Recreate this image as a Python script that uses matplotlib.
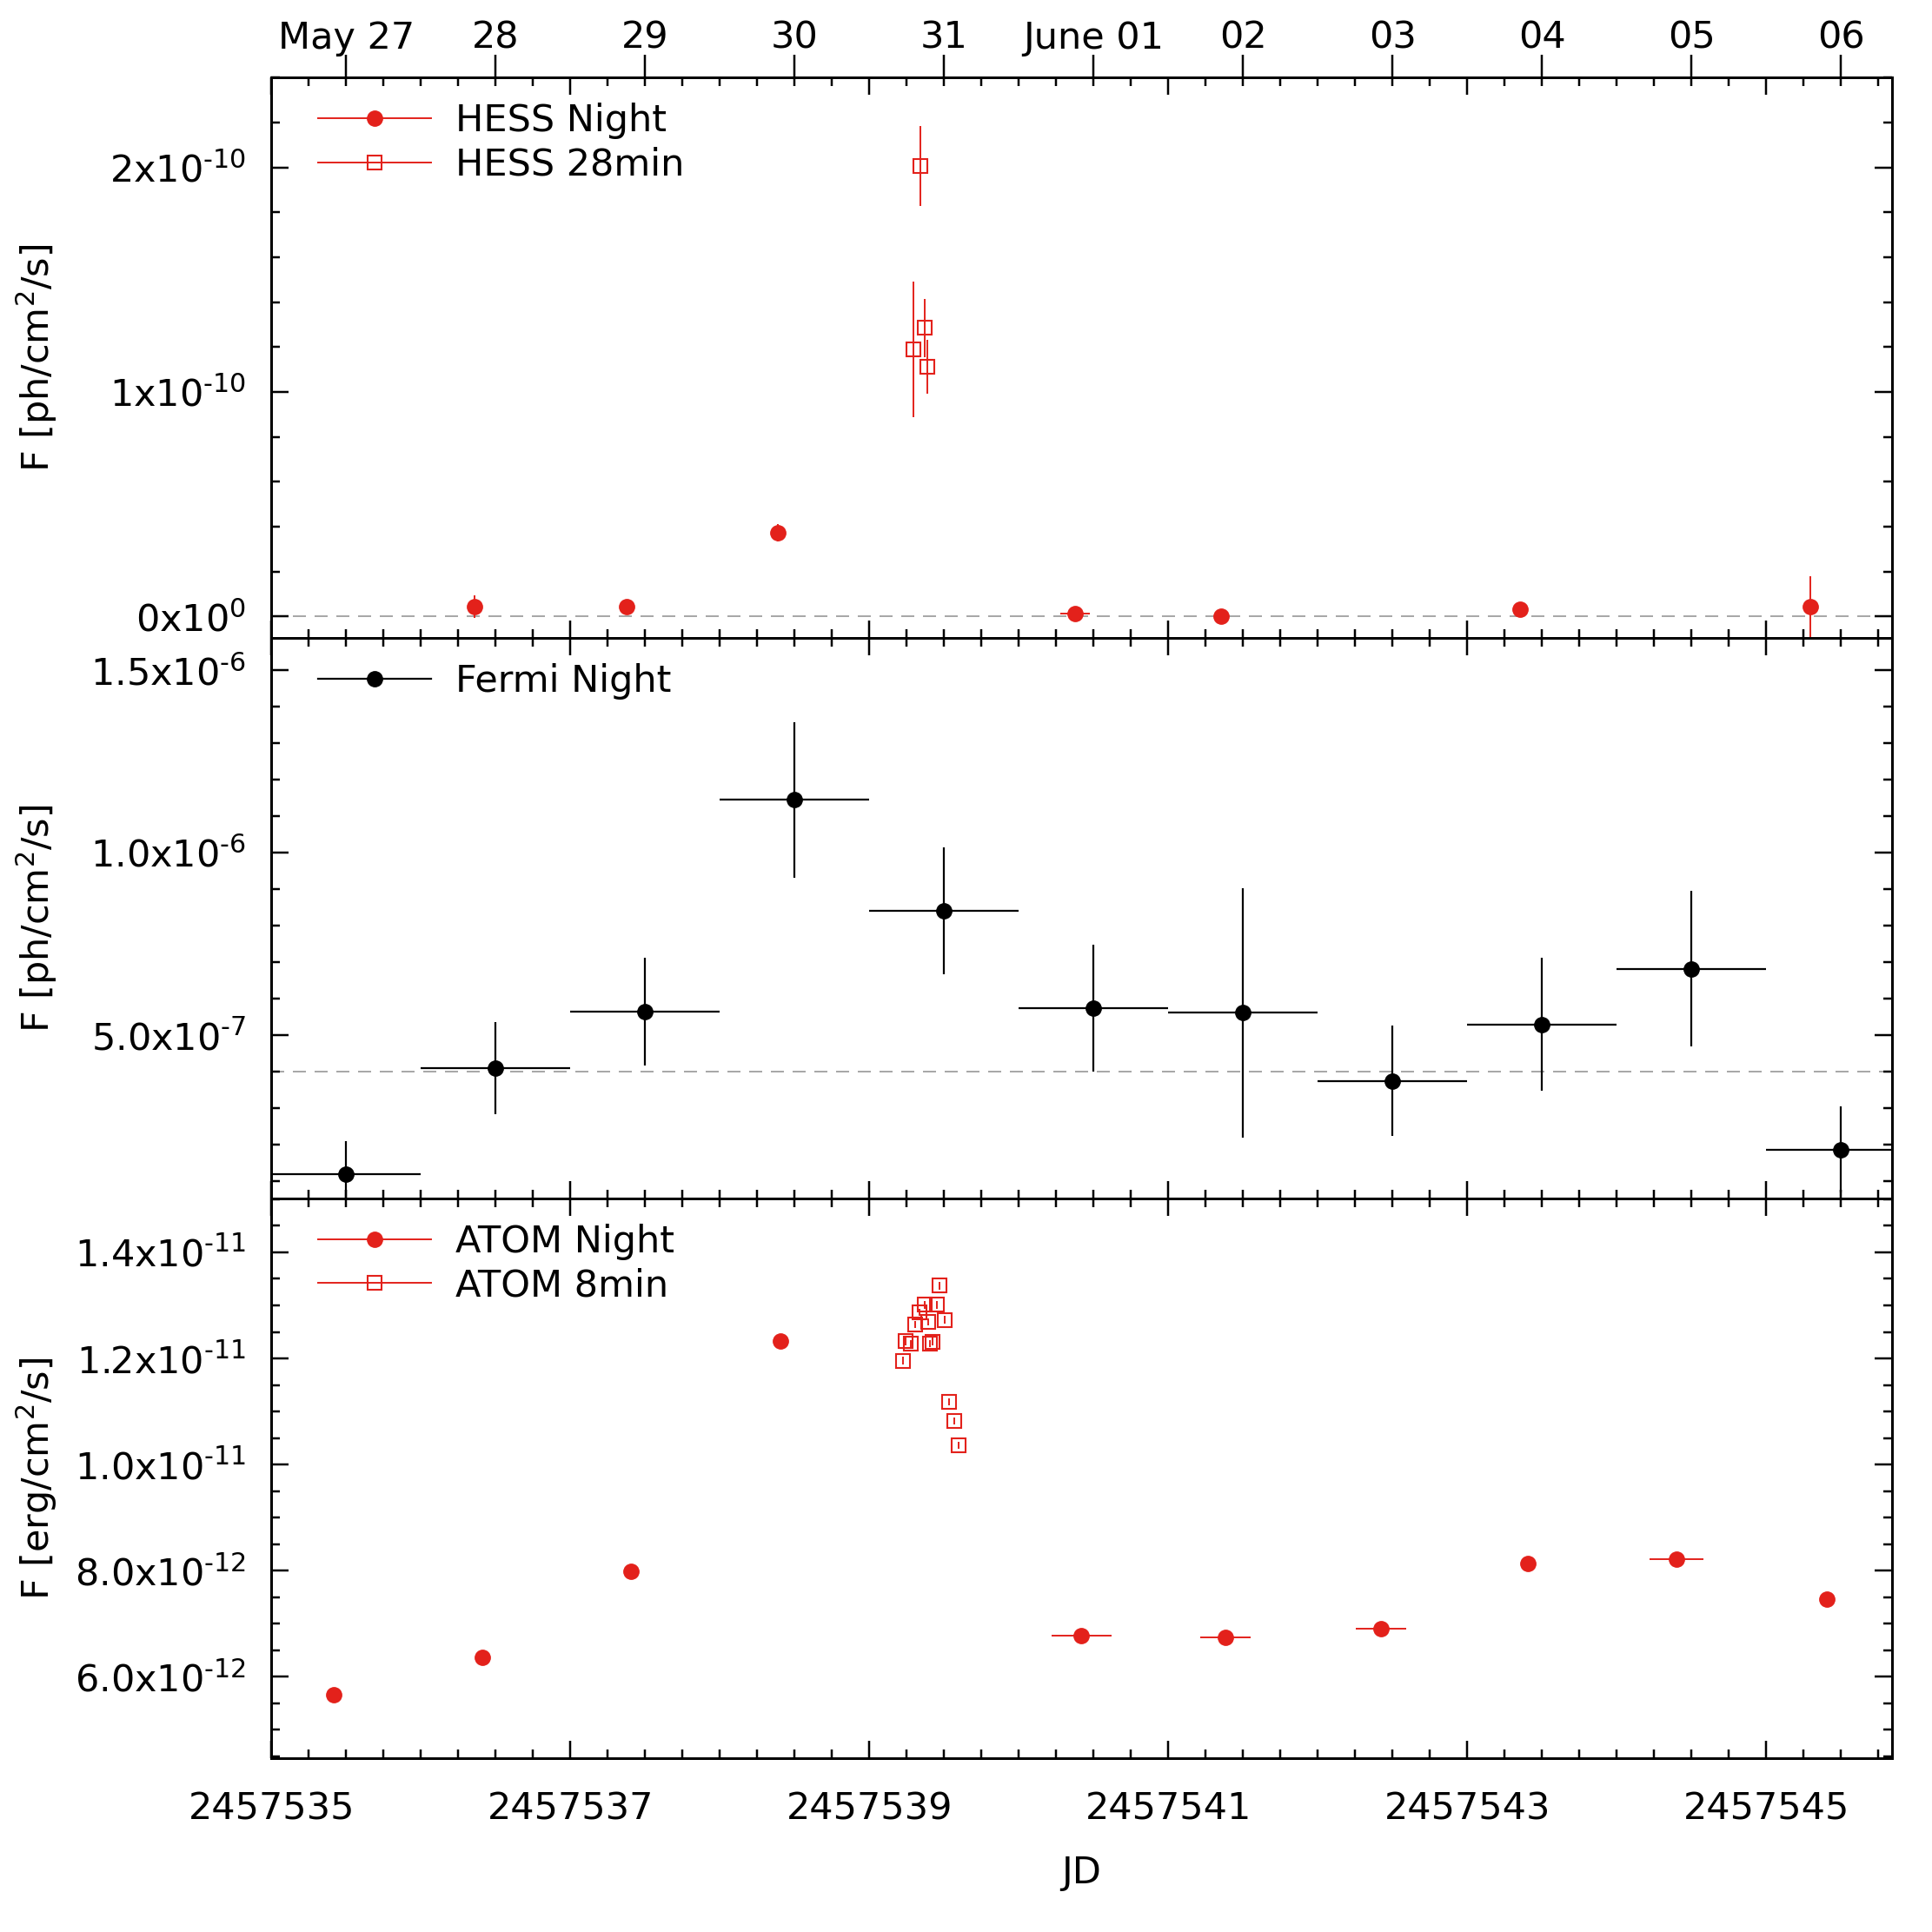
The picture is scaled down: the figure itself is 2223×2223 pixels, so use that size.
import numpy as np
import matplotlib
matplotlib.use('Agg')
import matplotlib.pyplot as plt
from matplotlib.ticker import MultipleLocator
from matplotlib.lines import Line2D

plt.rcParams['font.family'] = ['DejaVu Sans']
plt.rcParams['mathtext.default'] = 'regular'

# ---------------- data ----------------
hess_night_jd = [2457536.361, 2457537.375, 2457538.390, 2457540.377, 2457541.351, 2457543.355, 2457545.293]
hess_night_flux = [0.045e-10, 0.045e-10, 0.374e-10, 0.013e-10, 0.0, 0.034e-10, 0.045e-10]
hess_night_err = [0.05e-10, 0.02e-10, 0.04e-10, 0.02e-10, 0.02e-10, 0.02e-10, 0.135e-10]
hess_night_xerr = [0, 0, 0, 0.1, 0, 0, 0]

hess28_jd = [2457539.294, 2457539.342, 2457539.373, 2457539.390]
hess28_flux = [1.190e-10, 2.005e-10, 1.286e-10, 1.114e-10]
hess28_err = [0.302e-10, 0.178e-10, 0.129e-10, 0.120e-10]

fermi_jd = [2457535.5, 2457536.5, 2457537.5, 2457538.5, 2457539.5, 2457540.5,
            2457541.5, 2457542.5, 2457543.5, 2457544.5, 2457545.5]
fermi_flux = [0.118e-6, 0.409e-6, 0.564e-6, 1.145e-6, 0.841e-6, 0.574e-6,
              0.561e-6, 0.375e-6, 0.530e-6, 0.682e-6, 0.186e-6]
fermi_err = [0.091e-6, 0.126e-6, 0.148e-6, 0.213e-6, 0.174e-6, 0.175e-6,
             0.343e-6, 0.152e-6, 0.182e-6, 0.213e-6, 0.118e-6]
fermi_xerr = [0.5] * 11

atom_night_jd = [2457535.418, 2457536.410, 2457537.408, 2457538.406, 2457540.418,
                 2457541.383, 2457542.422, 2457543.404, 2457544.402, 2457545.408]
atom_night_flux = [5.67e-12, 6.37e-12, 7.99e-12, 12.33e-12, 6.78e-12,
                   6.74e-12, 6.90e-12, 8.13e-12, 8.22e-12, 7.46e-12]
atom_night_xerr = [0, 0, 0, 0, 0.2, 0.17, 0.17, 0, 0.18, 0]

atom8_jd = [2457539.226, 2457539.245, 2457539.278, 2457539.307, 2457539.338,
            2457539.373, 2457539.393, 2457539.406, 2457539.422, 2457539.454,
            2457539.470, 2457539.503, 2457539.534, 2457539.567, 2457539.599]
atom8_flux = [1.196e-11, 1.2325e-11, 1.228e-11, 1.264e-11, 1.287e-11,
              1.301e-11, 1.269e-11, 1.228e-11, 1.232e-11, 1.301e-11,
              1.337e-11, 1.273e-11, 1.118e-11, 1.082e-11, 1.0365e-11]
atom8_err = [0.007e-11] * 15

hess_yticks = [0, 1e-10, 2e-10]
hess_ylabels = [r'$0x10^{0}$', r'$1x10^{\text{-}10}$', r'$2x10^{\text{-}10}$']
fermi_yticks = [5e-7, 1.0e-6, 1.5e-6]
fermi_ylabels = [r'$5.0x10^{\text{-}7}$', r'$1.0x10^{\text{-}6}$', r'$1.5x10^{\text{-}6}$']
atom_yticks = [6e-12, 8e-12, 1.0e-11, 1.2e-11, 1.4e-11]
atom_ylabels = [r'$6.0x10^{\text{-}12}$', r'$8.0x10^{\text{-}12}$', r'$1.0x10^{\text{-}11}$',
                r'$1.2x10^{\text{-}11}$', r'$1.4x10^{\text{-}11}$']
jd_ticks = [2457535, 2457537, 2457539, 2457541, 2457543, 2457545]
jd_labels = ['2457535', '2457537', '2457539', '2457541', '2457543', '2457545']
date_ticks = [2457535.5, 2457536.5, 2457537.5, 2457538.5, 2457539.5, 2457540.5,
              2457541.5, 2457542.5, 2457543.5, 2457544.5, 2457545.5]
date_labels = ['May 27', '28', '29', '30', '31', 'June 01', '02', '03', '04', '05', '06']

fermi_baseline = 4e-7

# ---------------- style ----------------
RED = '#e3211b'
FS = 31
PX = 0.72  # points per pixel at dpi 100
MS_C = 12.5
MS_S = 12

fig = plt.figure(figsize=(22.23, 22.23), dpi=100)
left, right, bottom, top = 0.1405, 0.9792, 0.0898, 0.9598
h = (top - bottom) / 3
ax1 = fig.add_axes([left, bottom + 2 * h, right - left, h])
ax2 = fig.add_axes([left, bottom + h, right - left, h], sharex=ax1)
ax3 = fig.add_axes([left, bottom, right - left, h], sharex=ax1)

leg_kw = dict(loc='upper left', frameon=False, fontsize=FS, handlelength=3.0,
              handletextpad=0.65, labelspacing=0.2, borderaxespad=0.0,
              borderpad=0.0, bbox_to_anchor=(0.029, 0.955))

for ax in (ax1, ax2, ax3):
    for sp in ax.spines.values():
        sp.set_linewidth(3 * PX)
    ax.tick_params(which='both', direction='in', top=True, right=True,
                   labelsize=FS, width=2.5 * PX)
    ax.tick_params(which='major', length=20 * PX, pad=21)
    ax.tick_params(which='minor', length=10 * PX)
    ax.xaxis.set_major_locator(MultipleLocator(2))
    ax.xaxis.set_minor_locator(MultipleLocator(0.25))
    ax.yaxis.set_label_coords(-0.131, 0.5)

ax1.tick_params(axis='x', labelbottom=False)
ax2.tick_params(axis='x', labelbottom=False)
ax3.set_xlim(2457535.0, 2457545.84)

# ---- HESS panel ----
ax1.axhline(0, color='#a8a8a8', lw=2 * PX, ls=(0, (7.5, 5)), zorder=1)
ax1.errorbar(hess_night_jd, hess_night_flux, yerr=hess_night_err, xerr=hess_night_xerr,
             fmt='o', color=RED, ms=MS_C, mew=1, lw=1.4, capsize=0, zorder=3)
ax1.errorbar(hess28_jd, hess28_flux, yerr=hess28_err, fmt='s', color=RED,
             mfc='none', mec=RED, ms=MS_S, mew=1.5, lw=1.4, capsize=0, zorder=3)
ax1.set_ylim(-0.095e-10, 2.4e-10)
ax1.set_yticks(hess_yticks, hess_ylabels)
ax1.yaxis.set_minor_locator(MultipleLocator(0.2e-10))
ax1.set_ylabel(r'F [ph/cm$^{2}$/s]', fontsize=FS)
h1 = [Line2D([], [], color=RED, lw=1.4, marker='o', ms=MS_C),
      Line2D([], [], color=RED, lw=1.4, marker='s', ms=MS_S, mfc='none', mew=1.5)]
ax1.legend(h1, ['HESS Night', 'HESS 28min'], **leg_kw)

sec = ax1.secondary_xaxis('top')
sec.set_xticks(date_ticks, date_labels)
sec.tick_params(direction='out', length=26 * PX, width=2.5 * PX, labelsize=FS, pad=-1)
sec.xaxis.set_minor_locator(plt.NullLocator())
sec.spines['top'].set_linewidth(3 * PX)

# ---- Fermi panel ----
ax2.axhline(fermi_baseline, color='#a8a8a8', lw=2 * PX, ls=(0, (7.5, 5)), zorder=1)
ax2.errorbar(fermi_jd, fermi_flux, yerr=fermi_err, xerr=fermi_xerr, fmt='o',
             color='black', ms=MS_C, lw=1.6, capsize=0, zorder=3)
ax2.set_ylim(0.053e-6, 1.589e-6)
ax2.set_yticks(fermi_yticks, fermi_ylabels)
ax2.yaxis.set_minor_locator(MultipleLocator(0.1e-6))
ax2.set_ylabel(r'F [ph/cm$^{2}$/s]', fontsize=FS)
h2 = [Line2D([], [], color='black', lw=1.6, marker='o', ms=MS_C)]
ax2.legend(h2, ['Fermi Night'], **leg_kw)

# ---- ATOM panel ----
ax3.errorbar(atom_night_jd, atom_night_flux, xerr=atom_night_xerr, fmt='o',
             color=RED, ms=MS_C, lw=1.4, capsize=0, zorder=3)
ax3.errorbar(atom8_jd, atom8_flux, yerr=atom8_err, fmt='s', color=RED,
             mfc='none', mec=RED, ms=MS_S, mew=1.5, lw=1.4, capsize=0, zorder=3)
ax3.set_ylim(0.446e-11, 1.502e-11)
ax3.set_yticks(atom_yticks, atom_ylabels)
ax3.yaxis.set_minor_locator(MultipleLocator(0.05e-11))
ax3.set_ylabel(r'F [erg/cm$^{2}$/s]', fontsize=FS)
ax3.set_xticks(jd_ticks, jd_labels)
ax3.tick_params(axis='x', which='major', pad=27)
ax3.set_xlabel('JD', fontsize=FS)
ax3.xaxis.set_label_coords(0.5, -0.172)
h3 = [Line2D([], [], color=RED, lw=1.4, marker='o', ms=MS_C),
      Line2D([], [], color=RED, lw=1.4, marker='s', ms=MS_S, mfc='none', mew=1.5)]
ax3.legend(h3, ['ATOM Night', 'ATOM 8min'], **leg_kw)

fig.savefig('out.png', dpi=100)
